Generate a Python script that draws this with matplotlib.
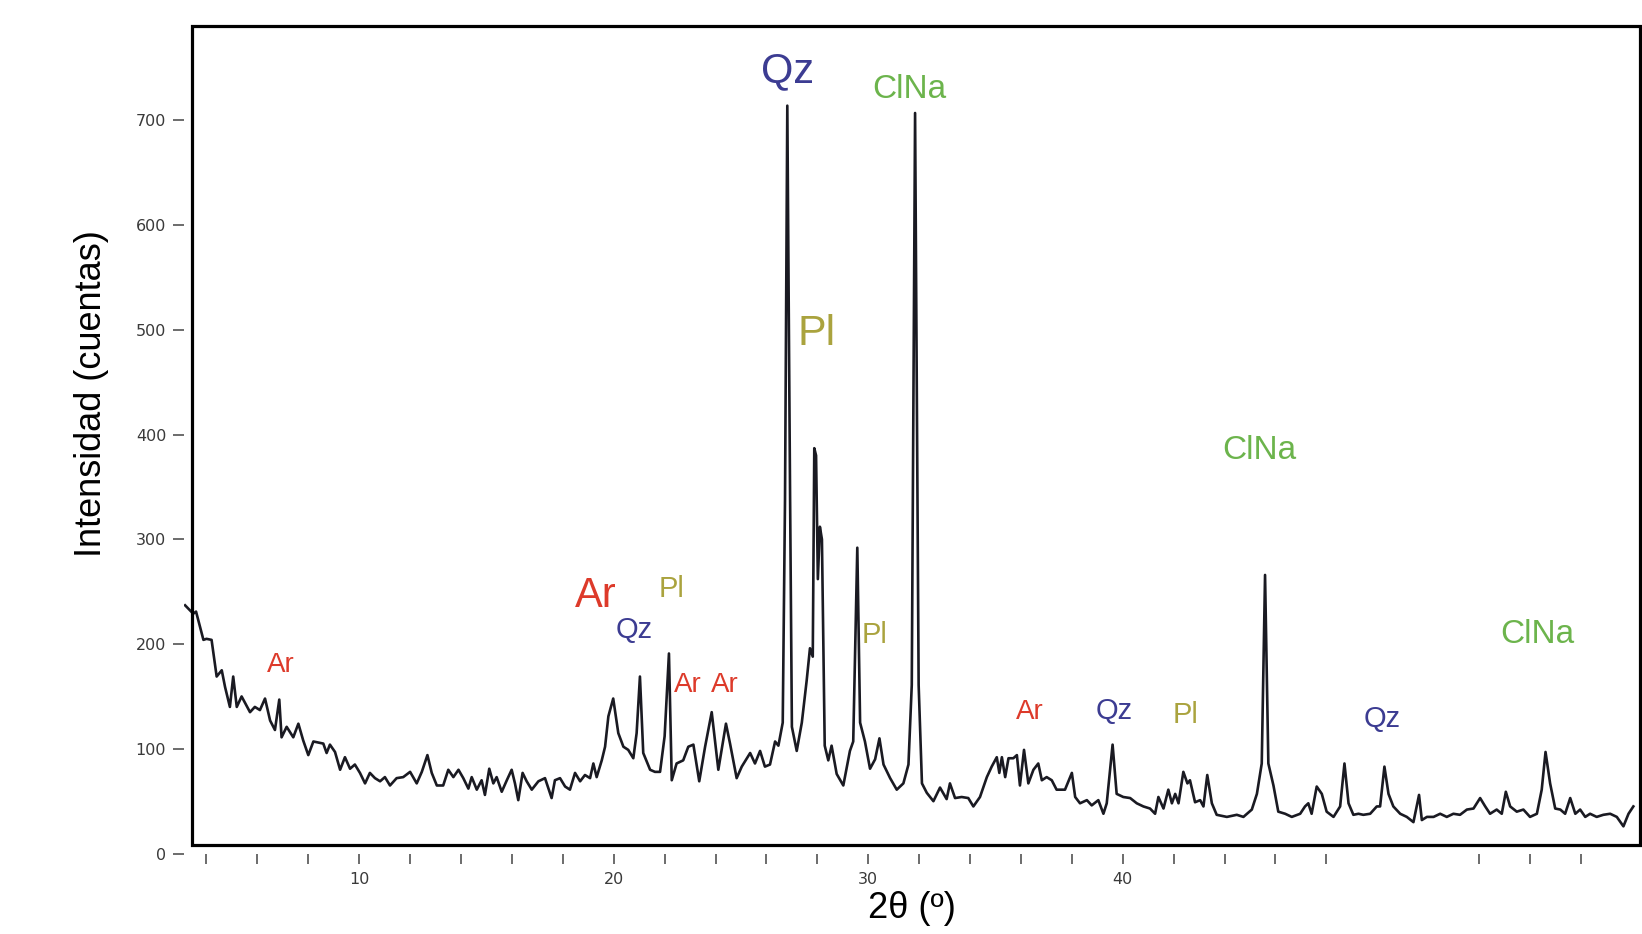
import matplotlib

matplotlib.use("Agg")

import matplotlib.pyplot as plt
from matplotlib.patches import Rectangle

# diffractogram (2theta in degrees, counts)
two_theta = [
    3.16, 3.48, 3.59, 3.88, 4.0, 4.2, 4.4, 4.6, 4.73, 4.92, 5.05, 5.19, 5.38,
    5.71, 5.9, 6.1, 6.3, 6.5, 6.69, 6.86, 6.95, 7.15, 7.41, 7.61, 7.8, 8.0,
    8.2, 8.59, 8.72,
    8.85, 9.05, 9.25, 9.44, 9.64, 9.83, 10.03, 10.23, 10.42, 10.62, 10.82,
    11.01, 11.21, 11.47, 11.73, 12.0, 12.26, 12.46, 12.68, 12.85, 13.05,
    13.3, 13.5, 13.7, 13.9, 14.09, 14.29, 14.42, 14.62, 14.81, 14.94, 15.11,
    15.27, 15.4, 15.6, 15.8, 15.99, 16.12, 16.25, 16.42, 16.58, 16.78, 17.04,
    17.3, 17.56, 17.69, 17.89, 18.09, 18.28, 18.48, 18.68, 18.87, 19.07,
    19.2, 19.33, 19.53, 19.66, 19.79,
    19.98, 20.18, 20.38, 20.57, 20.77, 20.9, 21.03,
    21.16, 21.43, 21.62, 21.82, 22.0, 22.17, 22.28, 22.47, 22.73, 22.93,
    23.13, 23.36, 23.59, 23.85, 24.11, 24.41, 24.57, 24.83, 25.03, 25.36,
    25.55, 25.75, 25.94,
    26.14, 26.34, 26.47, 26.64, 26.73, 26.82, 26.93, 27.0, 27.19, 27.39,
    27.58, 27.71, 27.82, 27.88, 27.95, 28.02, 28.1, 28.18, 28.29, 28.43,
    28.56, 28.76, 29.02, 29.28, 29.41, 29.57, 29.68, 29.87, 30.07, 30.27,
    30.44, 30.6, 30.86, 31.12, 31.38, 31.58, 31.71, 31.84, 31.98, 32.11, 32.3,
    32.56, 32.82, 33.08, 33.21, 33.41,
    33.67, 33.93, 34.13, 34.39, 34.66, 34.85, 35.05, 35.15, 35.25, 35.38,
    35.51, 35.7, 35.84, 35.96, 36.12, 36.29, 36.49, 36.68, 36.82, 37.01,
    37.21, 37.4, 37.73, 38.0, 38.13, 38.32, 38.59, 38.78, 39.04, 39.24, 39.37,
    39.6, 39.76, 40.02, 40.29, 40.55, 40.81, 41.07, 41.27, 41.4, 41.6, 41.79,
    41.93, 42.06, 42.19, 42.38, 42.54, 42.64, 42.84, 43.04, 43.17, 43.32,
    43.5, 43.69, 44.09, 44.48, 44.74, 45.07, 45.27, 45.46, 45.59, 45.72,
    45.92, 46.11,
    46.38, 46.64, 46.97, 47.16, 47.29, 47.42, 47.62, 47.82, 48.01, 48.28,
    48.54, 48.71, 48.87, 49.06, 49.26, 49.45, 49.72, 49.98, 50.11, 50.28,
    50.44, 50.63, 50.9, 51.16, 51.42, 51.64, 51.75, 51.95, 52.21, 52.47,
    52.73, 52.99, 53.25, 53.52, 53.78, 54.04, 54.24, 54.43, 54.69, 54.89,
    55.05, 55.22, 55.48, 55.74, 56.0, 56.27, 56.46, 56.61, 56.79, 56.99,
    57.19, 57.38, 57.58, 57.78, 57.97, 58.17, 58.36, 58.62, 58.88, 59.15,
    59.41, 59.67, 59.87, 60.06,
]
counts = [
    237, 229, 231, 204, 205, 204, 169, 175, 159, 140, 169, 140, 150,
    135, 140, 137, 148, 127, 118, 147, 111, 121, 111, 124, 108, 94,
    107, 105, 96,
    104, 97, 80, 92, 81, 85, 77, 67, 77, 72, 69,
    73, 65, 72, 73, 78, 67, 78, 94, 77, 65,
    65, 80, 73, 80, 72, 62, 73, 61, 70, 56, 81,
    67, 73, 59, 70, 80, 67, 51, 77, 69, 61, 69,
    72, 53, 70, 72, 64, 61, 77, 69, 75, 72,
    86, 73, 89, 102, 131,
    148, 115, 102, 99, 91, 115, 169,
    96, 80, 78, 78, 112, 191, 70, 86, 89, 102,
    104, 69, 102, 135, 80, 124, 105, 72, 83, 96,
    86, 98, 83,
    85, 107, 103, 125, 338, 714, 338, 121, 98, 125,
    165, 196, 188, 387, 380, 262, 312, 300, 103, 89,
    103, 76, 65, 98, 107, 292, 125, 107, 81, 90,
    110, 85, 72, 61, 67, 85, 161, 707, 161, 67, 58,
    50, 63, 52, 67, 53,
    54, 53, 45, 54, 73, 83, 92, 77, 92, 73,
    91, 91, 94, 65, 99, 67, 80, 86, 70, 73,
    70, 61, 61, 77, 54, 48, 51, 46, 51, 38, 48,
    104, 57, 54, 53, 48, 45, 43, 38, 54, 43, 61,
    48, 57, 48, 78, 67, 70, 49, 51, 45, 75,
    48, 37, 35, 37, 35, 42, 57, 86, 266, 86,
    65, 40,
    38, 35, 38, 45, 48, 38, 64, 57, 40, 35,
    45, 86, 48, 37, 38, 37, 38, 45, 45, 83,
    57, 45, 38, 35, 30, 56, 32, 35, 35, 38,
    35, 38, 37, 42, 43, 53, 45, 38, 42, 38,
    59, 45, 40, 42, 35, 38, 61, 97, 67, 43,
    42, 38, 53, 38, 42, 35, 38, 35, 37, 38,
    35, 26, 38, 45,
]

# phase labels: text, 2theta, counts, size
label_text = ["Qz", "ClNa", "Pl", "ClNa", "ClNa", "Ar", "Ar", "Qz", "Pl",
              "Ar", "Ar", "Pl", "Ar", "Qz", "Pl", "Qz"]
label_x = [26.83, 31.6, 27.98, 45.36, 56.3, 6.91, 19.28, 20.8, 22.27,
           22.92, 24.37, 30.24, 36.36, 39.66, 42.45, 50.2]
label_y = [750, 732, 499, 388, 212, 183, 249, 216, 256,
           164, 164, 212, 138, 139, 135, 131]
label_size = [30, 24, 31, 24, 24, 20, 30, 21, 21, 20, 20, 21, 20, 21, 21, 21]

phase_colors = {
    "Qz": "#3c3c92",
    "ClNa": "#6cb44c",
    "Pl": "#aaa33e",
    "Ar": "#dd3a2a",
}

xticks = [4, 6, 8, 10, 12, 14, 16, 18, 20, 22, 24, 26, 28, 30, 32, 34, 36,
          38, 40, 42, 44, 46, 48, 54, 56, 58]
xtick_labels = ["10", "20", "30", "40"]
yticks = [0, 100, 200, 300, 400, 500, 600, 700]

fig = plt.figure(figsize=(16.42, 9.34), dpi=100)
ax = fig.add_axes([0.1118, 0.0749, 0.8882, 0.8972])
ax.set_xlim(3.1, 60.4)
ax.set_ylim(-10, 790)
for side in ax.spines.values():
    side.set_visible(False)

# frame of the plotting area (sits above the zero line, like the original)
ax.add_patch(Rectangle((3.42, 8.6), 60.33 - 3.42, 790 - 8.6, fill=False,
                       edgecolor="black", linewidth=2.3, clip_on=False, zorder=3))

ax.plot(two_theta, counts, color="#1a1a22", linewidth=1.9, zorder=2)

ax.set_xticks(xticks)
ax.set_xticklabels([str(t) if str(t) in xtick_labels else "" for t in xticks])
ax.set_yticks(yticks)
ax.tick_params(axis="x", direction="in", length=7.2, width=1.1, pad=5.5,
               labelsize=11.5, labelcolor="#3a3a3a", color="#444444")
ax.tick_params(axis="y", direction="out", length=8, width=1.1, pad=4.5,
               labelsize=11.5, labelcolor="#3a3a3a", color="#444444")

for txt, x, y, size in zip(label_text, label_x, label_y, label_size):
    ax.text(x, y - 3, txt, fontsize=size, color=phase_colors[txt],
            ha="center", va="center", family="Liberation Sans", zorder=4)

fig.text(0.056, 0.579, "Intensidad (cuentas)", rotation=90, fontsize=26,
         ha="center", va="center", family="Liberation Sans")
fig.text(0.5554, 0.0278, "2θ (º)", fontsize=26, ha="center", va="center",
         family="Liberation Sans")

fig.savefig("out.png", dpi=100)
plt.close(fig)
